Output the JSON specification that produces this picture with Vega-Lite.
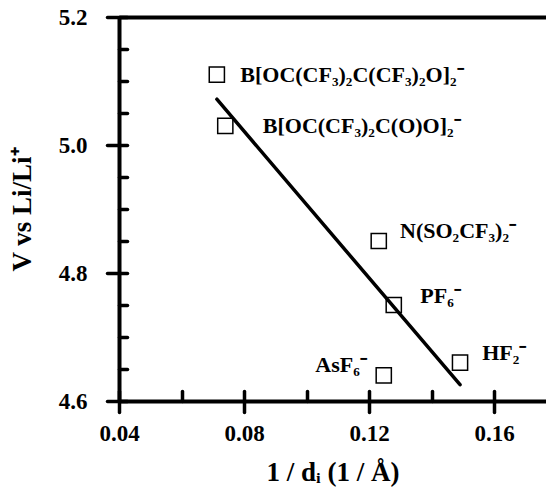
{
  "$schema": "https://vega.github.io/schema/vega-lite/v6.json",
  "autosize": {"type": "none"},
  "padding": {"left": 119, "top": 17, "right": 0, "bottom": 87},
  "width": 427,
  "height": 384,
  "background": "white",
  "config": {
    "view": {"stroke": null},
    "axis": {
      "grid": false,
      "domainColor": "black",
      "domainWidth": 4,
      "tickColor": "black",
      "tickWidth": 3.5,
      "tickCap": "round",
      "labelFont": "Liberation Serif",
      "labelFontWeight": "bold",
      "labelColor": "black",
      "labelFontSize": 23,
      "titleFont": "Liberation Serif",
      "titleFontWeight": "bold",
      "titleColor": "black",
      "titleFontSize": 27
    }
  },
  "datasets": {
    "points": [
      {"anion": "B[OC(CF3)2C(CF3)2O]2-", "x": 0.0713, "v": 5.11},
      {"anion": "B[OC(CF3)2C(O)O]2-", "x": 0.0740, "v": 5.03},
      {"anion": "N(SO2CF3)2-", "x": 0.1231, "v": 4.85},
      {"anion": "PF6-", "x": 0.1279, "v": 4.75},
      {"anion": "HF2-", "x": 0.1491, "v": 4.66},
      {"anion": "AsF6-", "x": 0.1247, "v": 4.64}
    ],
    "labels": [
      {"label": "B[OC(CF₃)₂C(CF₃)₂O]₂⁻", "lx": 0.0788, "lv": 5.0985},
      {"label": "B[OC(CF₃)₂C(O)O]₂⁻", "lx": 0.0860, "lv": 5.0184},
      {"label": "N(SO₂CF₃)₂⁻", "lx": 0.1299, "lv": 4.854},
      {"label": "PF₆⁻", "lx": 0.1364, "lv": 4.7525},
      {"label": "HF₂⁻", "lx": 0.1562, "lv": 4.664},
      {"label": "AsF₆⁻", "lx": 0.1028, "lv": 4.6457}
    ]
  },
  "resolve": {"axis": {"x": "independent", "y": "independent"}},
  "layer": [
    {
      "data": {"name": "points"},
      "mark": {"type": "point", "shape": "square", "filled": false, "size": 230, "strokeWidth": 1.5, "color": "black", "opacity": 1},
      "encoding": {
        "x": {
          "field": "x", "type": "quantitative",
          "scale": {"domain": [0.04, 0.1766], "nice": false, "zero": false},
          "axis": {
            "orient": "bottom",
            "values": [0.04, 0.08, 0.12, 0.16],
            "format": ".2f",
            "tickSize": 11,
            "labelPadding": 10,
            "labelFlush": false,
            "title": "1 / dᵢ (1 / Å)",
            "titlePadding": 14
          }
        },
        "y": {
          "field": "v", "type": "quantitative",
          "scale": {"domain": [4.6, 5.2], "nice": false, "zero": false},
          "axis": {
            "orient": "left",
            "values": [4.6, 4.8, 5.0, 5.2],
            "format": ".1f",
            "tickSize": 12,
            "labelPadding": 20,
            "labelFlush": false,
            "title": "V vs Li/Li⁺",
            "titlePadding": 22
          }
        }
      }
    },
    {
      "data": {"name": "points"},
      "transform": [{"regression": "v", "on": "x"}],
      "mark": {"type": "line", "color": "black", "strokeWidth": 3.5, "strokeCap": "round"},
      "encoding": {
        "x": {
          "field": "x", "type": "quantitative",
          "axis": {
            "orient": "bottom",
            "values": [0.04, 0.06, 0.08, 0.10, 0.12, 0.14, 0.16],
            "tickSize": -10,
            "labels": false,
            "domain": false,
            "title": null
          }
        },
        "y": {
          "field": "v", "type": "quantitative",
          "axis": {
            "orient": "left",
            "values": [4.6, 4.65, 4.7, 4.75, 4.8, 4.85, 4.9, 4.95, 5.0, 5.05, 5.1, 5.15, 5.2],
            "tickSize": -8,
            "labels": false,
            "domain": false,
            "title": null
          }
        }
      }
    },
    {
      "data": {"name": "labels"},
      "mark": {"type": "text", "font": "Liberation Serif", "fontWeight": "bold", "fontSize": 22, "align": "left", "baseline": "alphabetic", "color": "black"},
      "encoding": {
        "x": {
          "field": "lx", "type": "quantitative",
          "axis": {"orient": "top", "ticks": false, "labels": false, "domain": true, "title": null}
        },
        "y": {"field": "lv", "type": "quantitative", "axis": null},
        "text": {"field": "label"}
      }
    }
  ]
}
